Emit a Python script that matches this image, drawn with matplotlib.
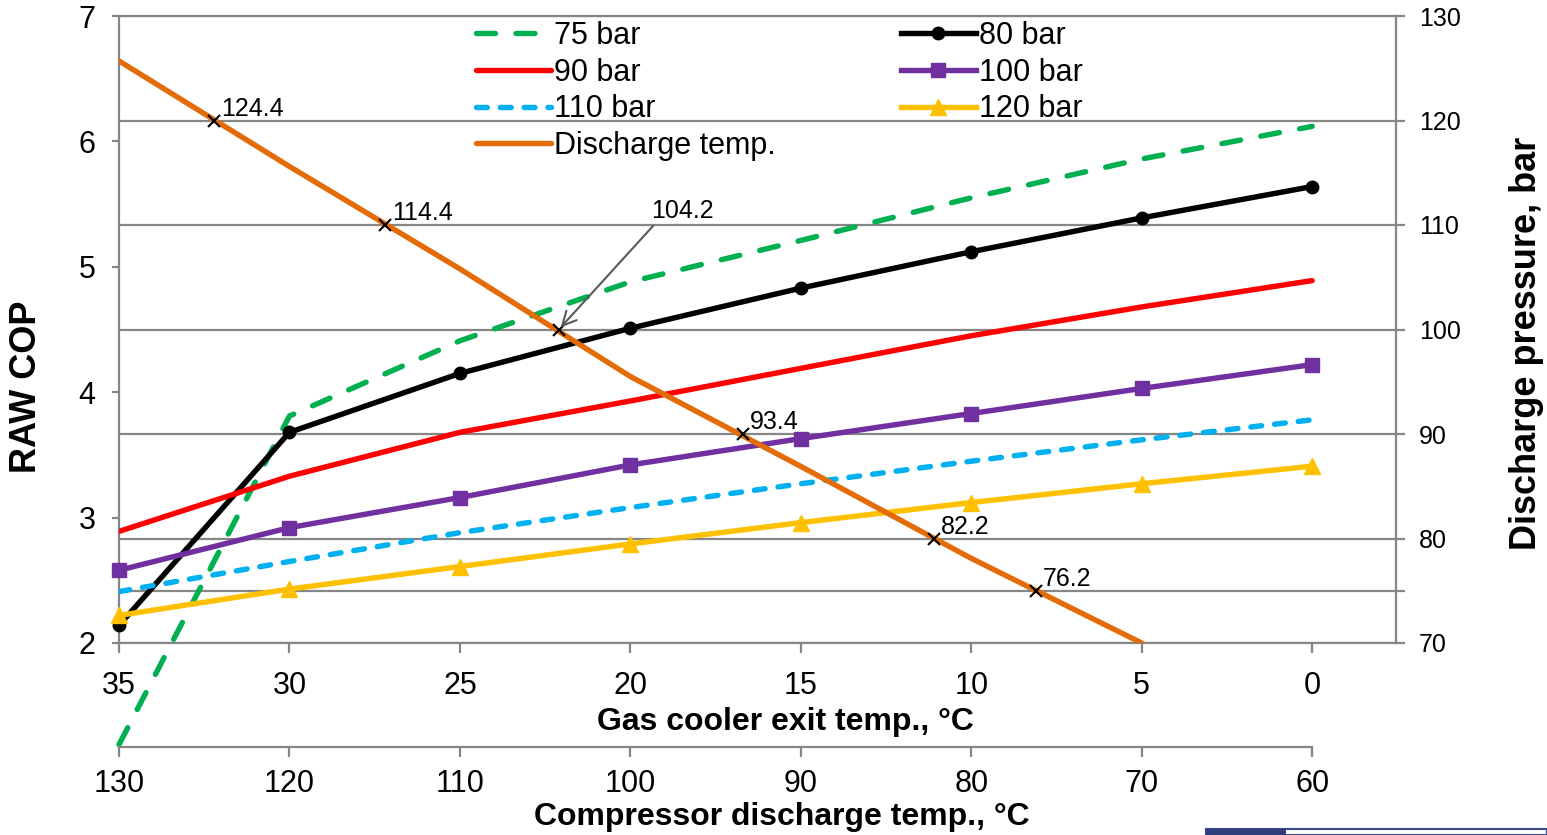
import matplotlib
matplotlib.use("Agg")
from matplotlib import pyplot as plt
from matplotlib.patches import Rectangle

plt.rcParams['font.family'] = ['Liberation Sans', 'DejaVu Sans']

## gas cooler exit temperature (lower x axis) and COP for each discharge pressure
gc_temp = [35, 30, 25, 20, 15, 10, 5, 0]
cop_75 = [1.19, 3.81, 4.41, 4.88, 5.21, 5.55, 5.86, 6.12]
cop_80 = [2.14, 3.68, 4.15, 4.51, 4.83, 5.12, 5.39, 5.64]
cop_90 = [2.89, 3.33, 3.68, 3.93, 4.19, 4.45, 4.68, 4.89]
cop_100 = [2.58, 2.92, 3.16, 3.42, 3.63, 3.83, 4.03, 4.22]
cop_110 = [2.41, 2.65, 2.88, 3.08, 3.27, 3.45, 3.62, 3.78]
cop_120 = [2.22, 2.43, 2.61, 2.79, 2.96, 3.12, 3.27, 3.41]

## compressor discharge temperature vs discharge pressure
dis_temp = [130, 120, 110, 100, 90, 80, 70]
dis_press = [125.7, 115.6, 105.8, 95.5, 86.9, 78.1, 70.0]

## marked discharge temperatures at each pressure level
mark_temp = [124.4, 114.4, 104.2, 93.4, 82.2, 76.2]
mark_press = [120, 110, 100, 90, 80, 75]

grey = '#868686'
W, H = 1547, 835

fig = plt.figure(figsize=(W / 100, H / 100), dpi=100)
fig.patch.set_facecolor('white')

## main axes (COP), twin for pressure, and twin of that for discharge temp
ax = fig.add_axes([119 / W, 1 - 643 / H, (1396 - 119) / W, (643 - 16) / H])
ax2 = ax.twinx()
ax3 = ax2.twiny()

gc_lim = (35, -2.46)
ax.set_xlim(*gc_lim)
ax.set_ylim(2, 7)
ax2.set_ylim(70, 130)
ax3.set_xlim(130, 60 + 2 * gc_lim[1])

## layering: grid (ax2) -> COP lines (ax) -> discharge temp (ax3)
ax2.set_zorder(1)
ax.set_zorder(2)
ax3.set_zorder(3)
ax.patch.set_visible(False)
ax3.patch.set_visible(False)
ax2.patch.set_facecolor('white')

for a in (ax, ax2, ax3):
    for s in a.spines.values():
        s.set_visible(False)

for s in ('left', 'right', 'top', 'bottom'):
    ax2.spines[s].set_visible(True)
    ax2.spines[s].set_color(grey)
    ax2.spines[s].set_linewidth(1.6)

## pressure gridlines (incl. 75 bar)
ax2.set_yticks([70, 80, 90, 100, 110, 120, 130])
ax2.set_yticks([75], minor=True)
ax2.grid(axis='y', which='both', color=grey, linewidth=1.6)
ax2.tick_params(axis='y', which='both', direction='out', length=6.5, width=1.6,
                color=grey, labelsize=18, pad=10)
ax2.tick_params(axis='y', which='minor', labelright=False)

## COP axis
ax.set_yticks([2, 3, 4, 5, 6, 7])
ax.tick_params(axis='y', direction='out', length=5, width=1.6, color=grey,
               labelsize=22, pad=12)
ax.set_xticks(gc_temp)
ax.tick_params(axis='x', direction='out', length=7, width=1.6, color=grey,
               labelsize=22, pad=13)

## compressor discharge temp axis, shown below
ax3.xaxis.set_ticks_position('bottom')
ax3.spines['bottom'].set_visible(True)
ax3.spines['bottom'].set_position(('outward', 75))
ax3.spines['bottom'].set_bounds(130, 60)
ax3.spines['bottom'].set_color(grey)
ax3.spines['bottom'].set_linewidth(1.6)
ax3.set_xticks([130, 120, 110, 100, 90, 80, 70, 60])
ax3.tick_params(axis='x', direction='out', length=7, width=1.6, color=grey,
                labelsize=22, pad=9)
ax3.tick_params(axis='y', left=False, right=False, labelleft=False, labelright=False)

lw = 3.9
h75, = ax.plot(gc_temp, cop_75, color='#00B050', lw=lw, dashes=(3.5, 3.8),
               dash_capstyle='round', clip_on=False, label='75 bar')
h80, = ax.plot(gc_temp, cop_80, color='black', lw=lw, marker='o', ms=9,
               label='80 bar', clip_on=False)
h90, = ax.plot(gc_temp, cop_90, color='#FF0000', lw=lw, solid_capstyle='round',
               label='90 bar')
h100, = ax.plot(gc_temp, cop_100, color='#7030A0', lw=lw, marker='s', ms=10,
                label='100 bar', clip_on=False)
h110, = ax.plot(gc_temp, cop_110, color='#00B0F0', lw=lw, dashes=(2.0, 2.4),
                dash_capstyle='round', label='110 bar')
h120, = ax.plot(gc_temp, cop_120, color='#FFC000', lw=lw, marker='^', ms=11,
                label='120 bar', clip_on=False)

hdis, = ax3.plot(dis_temp, dis_press, color='#E36C09', lw=lw,
                 solid_capstyle='round', label='Discharge temp.')

## marked intersection points
ax3.plot(mark_temp, mark_press, linestyle='none', marker='x', color='black',
         ms=8, mew=1.5)
for t, p in zip(mark_temp, mark_press):
    if t == 104.2:
        ax3.annotate(f'{t}', xy=(t, p), xytext=(98.8, 110.2), fontsize=18,
                     ha='left', va='bottom',
                     arrowprops=dict(arrowstyle='->', color='#595959', lw=1.5,
                                     relpos=(0.08, 0.0), mutation_scale=25,
                                     shrinkA=0, shrinkB=2))
    else:
        ax3.annotate(f'{t}', xy=(t, p), xytext=(5, 0), textcoords='offset points',
                     fontsize=18, ha='left', va='bottom')

## legend, row-major order in two columns
handles = [h75, h90, h110, hdis, h80, h100, h120]
leg = fig.legend(handles=handles, labels=[h.get_label() for h in handles],
                 ncol=2, frameon=False, fontsize=22, loc='upper left',
                 bbox_to_anchor=(476 / W, 1 - 21 / H), handlelength=2.45,
                 handletextpad=0.1, columnspacing=4.1, labelspacing=0.22,
                 borderaxespad=0, borderpad=0)
leg.set_zorder(10)

## axis titles
fig.text(27 / W, 1 - 387 / H, 'RAW COP', rotation=90, ha='center', va='center',
         fontsize=26, fontweight='bold')
fig.text(1527 / W, 1 - 343 / H, 'Discharge pressure, bar', rotation=90,
         ha='center', va='center', fontsize=26, fontweight='bold')
fig.text(785 / W, 1 - 722 / H, 'Gas cooler exit temp., °C', ha='center',
         va='center', fontsize=23, fontweight='bold')
fig.text(782 / W, 1 - 817 / H, 'Compressor discharge temp., °C', ha='center',
         va='center', fontsize=23, fontweight='bold')

## strip at the lower right edge of the screenshot
fig.patches.append(Rectangle((1206 / W, 0), (W - 1206) / W, 6 / H,
                             transform=fig.transFigure, facecolor='white',
                             edgecolor='#3B4A8C', linewidth=1.5))
fig.patches.append(Rectangle((1206 / W, 0), 80 / W, 6 / H,
                             transform=fig.transFigure, facecolor='#2F3D7A',
                             edgecolor='none'))

fig.savefig('out.png', dpi=100)
